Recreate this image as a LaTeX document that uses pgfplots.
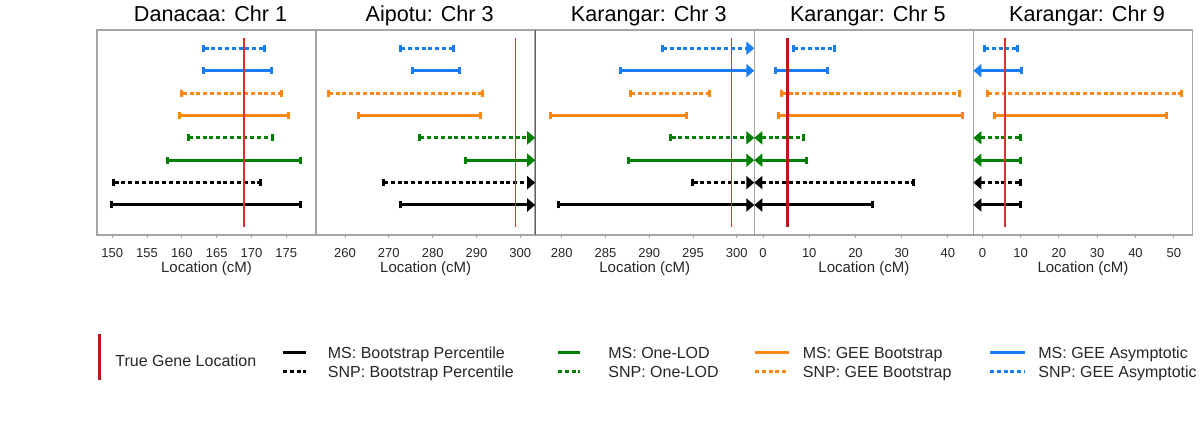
\documentclass[border=0pt]{standalone}
\usepackage{fontspec}
\setmainfont{Liberation Sans}
\usepackage{pgfplots}
\pgfplotsset{compat=1.18}
\usetikzlibrary{arrows.meta}

\definecolor{cblack}{RGB}{0,0,0}
\definecolor{cgreen}{RGB}{0,128,0}
\definecolor{corange}{RGB}{255,136,20}
\definecolor{cblue}{RGB}{25,125,245}
\definecolor{framegray}{RGB}{165,165,165}
\definecolor{framedark}{RGB}{95,95,95}
\definecolor{legred}{RGB}{190,20,30}
\definecolor{thinred}{RGB}{225,45,45}

\tikzset{
  ms/.style={line width=1.5pt},
  snp/.style={line width=1.5pt, dash pattern=on 2pt off 1.4pt},
  caps/.style={{Bar[width=3.5pt]}-{Bar[width=3.5pt]}},
  rarr/.style={{Bar[width=3.5pt]}-{Triangle[length=4pt,width=6.5pt]}},
  larr/.style={{Triangle[length=4pt,width=6.5pt]}-{Bar[width=3.5pt]}},
}

\pgfplotsset{
  panel/.style={
    scale only axis, width=109.55pt, height=102.5pt, anchor=south west,
    ymin=-0.34, ymax=8.816, ytick=\empty, clip=false,
    axis line style={draw=framegray, line width=0.75pt},
    tick align=outside, xtick pos=bottom, major tick length=1.5pt,
    xtick style={draw=framegray, line width=0.5pt},
    tick label style={font=\fontsize{6.5}{7}\selectfont, text=black!85},
    xticklabel style={anchor=base, yshift=-9.5pt, inner sep=0pt},
    /pgf/number format/assume math mode=true,
    xlabel={Location (cM)},
    xlabel style={at={(axis description cs:0.5,0)}, anchor=base, yshift=-18.65pt,
      inner sep=0pt, font=\fontsize{7.5}{8}\selectfont, text=black!85},
    every axis title/.style={at={(axis description cs:0.5,1)}, anchor=base,
      yshift=4.15pt, xshift=2pt, inner sep=0pt, font=\fontsize{10.8}{12}\selectfont},
  },
}

\begin{document}
\begin{tikzpicture}
\useasboundingbox (0,0) rectangle (600pt,-214pt);

% Danacaa: Chr 1
\begin{axis}[panel, at={(48.5pt,-117.5pt)}, xmin=147.8, xmax=179.3,
  xtick={150,155,160,165,170,175}, title={Danacaa: Chr 1}]
\addplot[ms, cblack, caps] coordinates {(149.6,1) (177.3,1)};
\addplot[snp, cblack, caps] coordinates {(150.0,2) (171.45,2)};
\addplot[ms, cgreen, caps] coordinates {(157.7,3) (177.3,3)};
\addplot[snp, cgreen, caps] coordinates {(160.7,4) (173.2,4)};
\addplot[ms, corange, caps] coordinates {(159.5,5) (175.6,5)};
\addplot[snp, corange, caps] coordinates {(159.8,6) (174.55,6)};
\addplot[ms, cblue, caps] coordinates {(162.85,7) (173.1,7)};
\addplot[snp, cblue, caps] coordinates {(162.95,8) (172.1,8)};
\addplot[draw=thinred, line width=0.75pt] coordinates {(168.9,0) (168.9,8.45)};
\end{axis}

% Aipotu: Chr 3
\begin{axis}[panel, at={(158.05pt,-117.5pt)}, xmin=253.4, xmax=303.4,
  xtick={260,270,280,290,300}, title={Aipotu: Chr 3}]
\addplot[ms, cblack, rarr] coordinates {(272.4,1) (303.4,1)};
\addplot[snp, cblack, rarr] coordinates {(268.4,2) (303.4,2)};
\addplot[ms, cgreen, rarr] coordinates {(287.2,3) (303.4,3)};
\addplot[snp, cgreen, rarr] coordinates {(276.7,4) (303.4,4)};
\addplot[ms, corange, caps] coordinates {(262.8,5) (291.3,5)};
\addplot[snp, corange, caps] coordinates {(255.8,6) (291.7,6)};
\addplot[ms, cblue, caps] coordinates {(275.0,7) (286.4,7)};
\addplot[snp, cblue, caps] coordinates {(272.3,8) (285.2,8)};
\addplot[draw=thinred, line width=0.75pt] coordinates {(298.9,0) (298.9,8.45)};
\end{axis}

% Karangar: Chr 3
\begin{axis}[panel, at={(267.6pt,-117.5pt)}, xmin=276.96, xmax=302.0,
  xtick={280,285,290,295,300}, title={Karangar: Chr 3},
  separate axis lines, y axis line style={draw=framedark, line width=0.5pt}]
\addplot[ms, cblack, rarr] coordinates {(279.5,1) (302.0,1)};
\addplot[snp, cblack, rarr] coordinates {(294.8,2) (302.0,2)};
\addplot[ms, cgreen, rarr] coordinates {(287.4,3) (302.0,3)};
\addplot[snp, cgreen, rarr] coordinates {(292.3,4) (302.0,4)};
\addplot[ms, corange, caps] coordinates {(278.55,5) (294.4,5)};
\addplot[snp, corange, caps] coordinates {(287.7,6) (297.0,6)};
\addplot[ms, cblue, rarr] coordinates {(286.5,7) (302.0,7)};
\addplot[snp, cblue, rarr] coordinates {(291.3,8) (302.0,8)};
\addplot[draw=thinred, line width=0.75pt] coordinates {(299.4,0) (299.4,8.45)};
\end{axis}

% Karangar: Chr 5
\begin{axis}[panel, at={(377.15pt,-117.5pt)}, xmin=-1.88, xmax=45.5,
  xtick={0,10,20,30,40}, title={Karangar: Chr 5}]
\addplot[ms, cblack, larr] coordinates {(-1.88,1) (24.1,1)};
\addplot[snp, cblack, larr] coordinates {(-1.88,2) (32.9,2)};
\addplot[ms, cgreen, larr] coordinates {(-1.88,3) (9.65,3)};
\addplot[snp, cgreen, larr] coordinates {(-1.88,4) (9.15,4)};
\addplot[ms, corange, caps] coordinates {(3.03,5) (43.4,5)};
\addplot[snp, corange, caps] coordinates {(3.6,6) (42.9,6)};
\addplot[ms, cblue, caps] coordinates {(2.44,7) (14.2,7)};
\addplot[snp, cblue, caps] coordinates {(6.27,8) (15.85,8)};
\addplot[draw=legred, line width=1.5pt] coordinates {(5.4,0) (5.4,8.45)};
\end{axis}

% Karangar: Chr 9
\begin{axis}[panel, at={(486.7pt,-117.5pt)}, xmin=-2.35, xmax=54.9,
  xtick={0,10,20,30,40,50}, title={Karangar: Chr 9}]
\addplot[ms, cblack, larr] coordinates {(-2.35,1) (10.35,1)};
\addplot[snp, cblack, larr] coordinates {(-2.35,2) (10.35,2)};
\addplot[ms, cgreen, larr] coordinates {(-2.35,3) (10.35,3)};
\addplot[snp, cgreen, larr] coordinates {(-2.35,4) (10.35,4)};
\addplot[ms, corange, caps] coordinates {(2.87,5) (48.4,5)};
\addplot[snp, corange, caps] coordinates {(0.9,6) (52.5,6)};
\addplot[ms, cblue, larr] coordinates {(-2.35,7) (10.5,7)};
\addplot[snp, cblue, caps] coordinates {(0.1,8) (9.65,8)};
\addplot[draw=thinred, line width=0.75pt] coordinates {(5.92,0) (5.92,8.45)};
\end{axis}

% legend
\begin{scope}[every node/.style={inner sep=0pt, anchor=base west,
    font=\fontsize{8}{9}\selectfont, text=black!85}]
\draw[legred, line width=1.5pt] (49.5pt,-167pt) -- (49.5pt,-190pt);
\node at (57.5pt,-183.35pt) {True Gene Location};
\draw[ms, cblack] (141.5pt,-176pt) -- (153pt,-176pt);
\draw[snp, cblack] (141.5pt,-185.5pt) -- (153pt,-185.5pt);
\node at (163.75pt,-179.45pt) {MS: Bootstrap Percentile};
\node at (163.75pt,-188.9pt) {SNP: Bootstrap Percentile};
\draw[ms, cgreen] (279pt,-176pt) -- (290pt,-176pt);
\draw[snp, cgreen] (279pt,-185.5pt) -- (290pt,-185.5pt);
\node at (304pt,-179.45pt) {MS: One-LOD};
\node at (304pt,-188.9pt) {SNP: One-LOD};
\draw[ms, corange] (377.5pt,-176pt) -- (394.5pt,-176pt);
\draw[snp, corange] (377.5pt,-185.5pt) -- (394.5pt,-185.5pt);
\node at (401.25pt,-179.45pt) {MS: GEE Bootstrap};
\node at (401.25pt,-188.9pt) {SNP: GEE Bootstrap};
\draw[ms, cblue] (495pt,-176pt) -- (512.5pt,-176pt);
\draw[snp, cblue] (495pt,-185.5pt) -- (512.5pt,-185.5pt);
\node at (519pt,-179.45pt) {MS: GEE Asymptotic};
\node at (519pt,-188.9pt) {SNP: GEE Asymptotic};
\end{scope}
\end{tikzpicture}
\end{document}
